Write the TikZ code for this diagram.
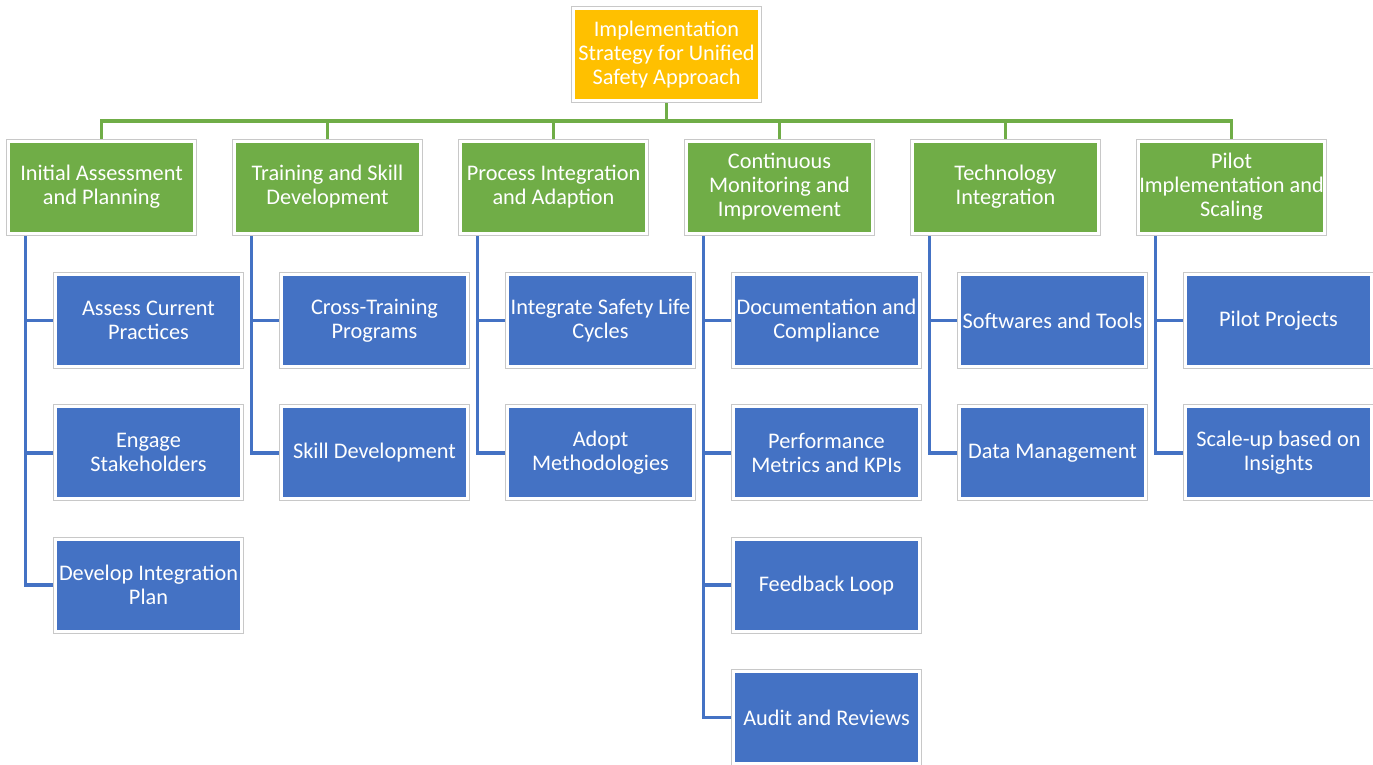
\documentclass[tikz,border=0pt]{standalone}
\usepackage{fontspec}
\setmainfont{Carlito}
\usetikzlibrary{calc,backgrounds}
\definecolor{topfill}{HTML}{FFC000}
\definecolor{grpfill}{HTML}{70AD47}
\definecolor{itemfill}{HTML}{4472C4}
\definecolor{rim}{RGB}{200,200,200}
\begin{document}
\begin{tikzpicture}[x=1bp,y=-1bp,
  card/.style={minimum width=186bp, minimum height=92bp, inner sep=0pt,
    align=center, text=white, draw=white, line width=3bp,
    preaction={draw=rim, line width=5bp},
    font=\fontsize{22.3bp}{24bp}\selectfont},
  rootcard/.style={card, fill=topfill},
  groupcard/.style={card, fill=grpfill},
  itemcard/.style={card, fill=itemfill},
  trunk/.style={draw=grpfill, line width=3.5bp},
  branch/.style={draw=itemfill, line width=3.5bp}]
\useasboundingbox (0,0) rectangle (1373,764);

% root
\node[rootcard] (root) at (666.5,54.5) {Implementation\\Strategy for Unified\\Safety Approach};

% phase nodes
\node[groupcard] (g1) at (101.5,187) {Initial Assessment\\and Planning};
\node[groupcard] (g2) at (327.5,187) {Training and Skill\\Development};
\node[groupcard] (g3) at (553.5,187) {Process Integration\\and Adaption};
\node[groupcard] (g4) at (779.5,187) {Continuous\\Monitoring and\\Improvement};
\node[groupcard] (g5) at (1005.5,187) {Technology\\Integration};
\node[groupcard] (g6) at (1231.5,187) {Pilot\\Implementation and\\Scaling};

% tasks
\node[itemcard] (a1) at (148.5,320.5) {Assess Current\\Practices};
\node[itemcard] (a2) at (148.5,452.8) {Engage\\Stakeholders};
\node[itemcard] (a3) at (148.5,585.1) {Develop Integration\\Plan};
\node[itemcard] (b1) at (374.5,320.5) {Cross-Training\\Programs};
\node[itemcard] (b2) at (374.5,452.8) {Skill Development};
\node[itemcard] (c1) at (600.5,320.5) {Integrate Safety Life\\Cycles};
\node[itemcard] (c2) at (600.5,452.8) {Adopt\\Methodologies};
\node[itemcard] (d1) at (826.5,320.5) {Documentation and\\Compliance};
\node[itemcard] (d2) at (826.5,452.8) {Performance\\Metrics and KPIs};
\node[itemcard] (d3) at (826.5,585.1) {Feedback Loop};
\node[itemcard] (d4) at (826.5,717.4) {Audit and Reviews};
\node[itemcard] (e1) at (1052.5,320.5) {Softwares and Tools};
\node[itemcard] (e2) at (1052.5,452.8) {Data Management};
\node[itemcard] (f1) at (1278.5,320.5) {Pilot Projects};
\node[itemcard] (f2) at (1278.5,452.8) {Scale-up based on\\Insights};

\coordinate (bar) at (0,121);

\begin{scope}[on background layer]
  % root to phases
  \foreach \g in {g1,g2,g3,g4,g5,g6}
    \draw[trunk] (root.south) -- (root.south |- bar) -| (\g.north);
  % phases to tasks
  \foreach \g/\t in {g1/a1,g1/a2,g1/a3,g2/b1,g2/b2,g3/c1,g3/c2,
                     g4/d1,g4/d2,g4/d3,g4/d4,g5/e1,g5/e2,g6/f1,g6/f2}
    \draw[branch] ($(\g.south west)+(18.5,0)$) |- (\t.west);
\end{scope}
\end{tikzpicture}
\end{document}
